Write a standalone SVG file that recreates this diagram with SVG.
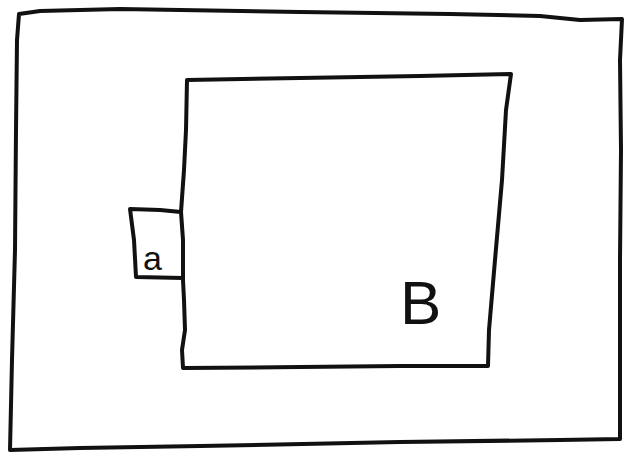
<svg xmlns="http://www.w3.org/2000/svg" width="633" height="452" viewBox="0 0 633 452">
<style>
.ink{fill:none;stroke:#111;stroke-width:4;stroke-linejoin:round;stroke-linecap:round}
.lbl{font-family:"Liberation Sans","DejaVu Sans",sans-serif;fill:#111}
</style>
<rect width="633" height="452" fill="#fff"/>
<g id="frame">
<path class="ink" d="M19,14 L40,11 L120,9 L300,12 L450,14 L540,16 L580,20 L622,19 L620,60 L621,150 L620,260 L620,360 L620,439 L560,440 L400,442 L200,446 L80,448 L10,450 L12,360 L15,250 L16,130 L17,40 Z"/>
</g>
<g id="node-B">
<path class="ink" d="M187,80 L300,78 L420,76 L511,74 L506,110 L502,180 L495,260 L489,330 L488,366 L400,366 L300,367 L183,368 L182,350 L185,330 L184,300 L183,280 L183,240 L181,212 L184,170 L186,130 L187,80 Z"/>
<text class="lbl" x="400" y="324" font-size="62">B</text>
</g>
<g id="node-a">
<path class="ink" d="M181,212 L160,210 L130,209 L134,240 L136,277 L183,278"/>
<text class="lbl" x="143" y="270" font-size="34">a</text>
</g>
</svg>
